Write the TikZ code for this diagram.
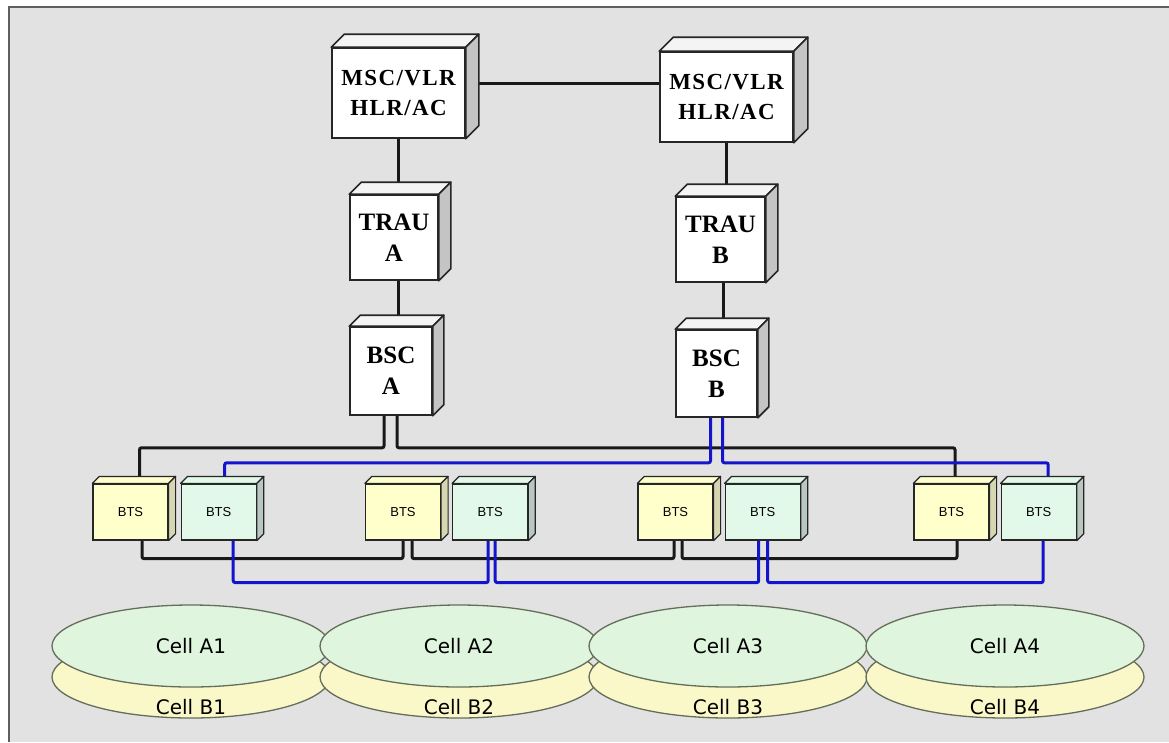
\documentclass[tikz,border=0pt]{standalone}
\usepackage{fontspec}
\newfontfamily\boxfont{Liberation Serif}
\newfontfamily\wideboxfont{Liberation Serif}[LetterSpace=6]
\newfontfamily\cellfont{DejaVu Sans}
\newfontfamily\btsfont{Liberation Sans}
\usetikzlibrary{positioning}
\usetikzlibrary{shapes.geometric}

\definecolor{stone}{RGB}{226,226,226}
\definecolor{frameline}{RGB}{95,95,95}
\definecolor{linkblue}{RGB}{20,20,205}
\definecolor{cellgreen}{RGB}{224,245,222}
\definecolor{cellyellow}{RGB}{250,248,200}
\definecolor{cellline}{RGB}{100,110,90}
\definecolor{btsyellow}{RGB}{255,255,204}
\definecolor{btsyellowside}{RGB}{214,214,176}
\definecolor{btsgreen}{RGB}{226,248,232}
\definecolor{btsgreenside}{RGB}{184,200,192}
\definecolor{boxside}{RGB}{196,196,196}
\definecolor{boxtop}{RGB}{244,244,244}

\pgfdeclarelayer{wires}
\pgfsetlayers{wires,main}

% top and side face of a box node: [line width]{node}{depth}{top}{side}
\newcommand\boxfaces[5][1.6pt]{%
  \filldraw[fill=#4, draw=black!85, line width=#1, line join=round]
    (#2.north west) -- ++(#3,#3) -- ([shift={(#3,#3)}]#2.north east) -- (#2.north east) -- cycle;
  \filldraw[fill=#5, draw=black!85, line width=#1, line join=round]
    (#2.north east) -- ++(#3,#3) -- ([shift={(#3,#3)}]#2.south east) -- (#2.south east) -- cycle;
}

\begin{document}
\begin{tikzpicture}[x=1pt, y=-1pt,
      bigbox/.style={draw=black!85, line width=1.6pt, fill=white, align=center, inner sep=0pt,
        font=\wideboxfont\bfseries\fontsize{23}{30}\selectfont},
      midbox/.style={bigbox, font=\boxfont\bfseries\fontsize{25}{31}\selectfont},
      btsbox/.style={draw=black!85, line width=1.2pt, minimum width=75pt, minimum height=56pt,
        inner sep=0pt, font=\btsfont\fontsize{13}{15}\selectfont},
      cella/.style={ellipse, draw=cellline, line width=1.3pt, fill=cellgreen, minimum width=278pt,
        minimum height=82pt, inner sep=0pt, font=\cellfont\fontsize{20}{24}\selectfont},
      cellb/.style={cella, fill=cellyellow},
      celltext/.style={font=\cellfont\fontsize{20}{24}\selectfont, anchor=base, yshift=4pt},
      wire/.style={line width=3pt, black!90, rounded corners=2pt},
      bluewire/.style={wire, linkblue},
    ]
    \useasboundingbox (0,0) rectangle (1169,742);
    \begin{pgfonlayer}{wires}
        \fill[white] (0,0) rectangle (1169,742);
        \fill[stone] (9,7) rectangle (1169,742);
        \draw[line width=2pt, frameline] (9,742) -- (9,7) -- (1169,7);
    \end{pgfonlayer}

    % switching part
    \node[bigbox, minimum width=133pt, minimum height=90pt] (msca) at (398.5,93) {MSC/VLR\\HLR/AC};
    \node[bigbox, minimum width=133pt, minimum height=90pt] (mscb) at (726.5,97) {MSC/VLR\\HLR/AC};
    \node[midbox, minimum width=88pt, minimum height=85pt] (traua) at (394,237.5) {TRAU\\A};
    \node[midbox, minimum width=89pt, minimum height=85pt] (traub) at (720.5,239.5) {TRAU\\B};
    \node[midbox, minimum width=82pt, minimum height=88pt] (bsca) at (391,371) {BSC\\A};
    \node[midbox, minimum width=81pt, minimum height=87pt] (bscb) at (716.5,373.5) {BSC\\B};
    \boxfaces{msca}{13pt}{boxtop}{boxside}
    \boxfaces{mscb}{14pt}{boxtop}{boxside}
    \boxfaces{traua}{12pt}{boxtop}{boxside}
    \boxfaces{traub}{12pt}{boxtop}{boxside}
    \boxfaces{bsca}{11pt}{boxtop}{boxside}
    \boxfaces{bscb}{11pt}{boxtop}{boxside}

    % base stations
    \node[btsbox, fill=btsyellow] (btsa1) at (130.5,512) {BTS};
    \node[btsbox, fill=btsgreen, right=12pt of btsa1] (btsb1) {BTS};
    \node[btsbox, fill=btsyellow] (btsa2) at (403,512) {BTS};
    \node[btsbox, fill=btsgreen, right=11pt of btsa2] (btsb2) {BTS};
    \node[btsbox, fill=btsyellow] (btsa3) at (675.5,512) {BTS};
    \node[btsbox, fill=btsgreen, right=11pt of btsa3] (btsb3) {BTS};
    \node[btsbox, fill=btsyellow] (btsa4) at (951.5,512) {BTS};
    \node[btsbox, fill=btsgreen, right=11pt of btsa4] (btsb4) {BTS};
    \boxfaces[1.2pt]{btsa1}{7pt}{btsyellow}{btsyellowside}
    \boxfaces[1.2pt]{btsb1}{7pt}{btsgreen}{btsgreenside}
    \boxfaces[1.2pt]{btsa2}{7pt}{btsyellow}{btsyellowside}
    \boxfaces[1.2pt]{btsb2}{7pt}{btsgreen}{btsgreenside}
    \boxfaces[1.2pt]{btsa3}{7pt}{btsyellow}{btsyellowside}
    \boxfaces[1.2pt]{btsb3}{7pt}{btsgreen}{btsgreenside}
    \boxfaces[1.2pt]{btsa4}{7pt}{btsyellow}{btsyellowside}
    \boxfaces[1.2pt]{btsb4}{7pt}{btsgreen}{btsgreenside}

    % cells
    \node[cellb, label={[celltext]below:Cell B1}] (cellb1) at (191,677) {};
    \node[cellb, label={[celltext]below:Cell B2}] (cellb2) at (459,677) {};
    \node[cellb, label={[celltext]below:Cell B3}] (cellb3) at (728,677) {};
    \node[cellb, label={[celltext]below:Cell B4}] (cellb4) at (1005,677) {};
    \node[cella] (cella1) at (191,646) {Cell A1};
    \node[cella] (cella2) at (459,646) {Cell A2};
    \node[cella] (cella3) at (728,646) {Cell A3};
    \node[cella] (cella4) at (1005,646) {Cell A4};

    \begin{pgfonlayer}{wires}
        \draw[wire] ([yshift=10pt]msca.center) -- ([yshift=10pt]msca.center -| mscb.center);
        \draw[wire] (msca) -- (msca |- traua);
        \draw[wire] (mscb) -- (mscb |- traub);
        \draw[wire] ([xshift=4pt]traua.center) -- ([xshift=4pt]traua.center |- bsca.center);
        \draw[wire] ([xshift=2.5pt]traub.center) -- ([xshift=2.5pt]traub.center |- bscb.center);
        % BSC A to its BTS chain
        \draw[wire] ([xshift=-7pt]bsca.south) -- ++(0,32) -| ([xshift=9pt]btsa1.north);
        \draw[wire] ([xshift=6pt]bsca.south) -- ++(0,32) -| ([xshift=3.5pt]btsa4.north);
        \draw[wire] ([xshift=11.5pt]btsa1.south) -- ++(0,18) -| (btsa2.south);
        \draw[wire] ([xshift=9pt]btsa2.south) -- ++(0,18) -| ([xshift=-1.5pt]btsa3.south);
        \draw[wire] ([xshift=6.5pt]btsa3.south) -- ++(0,18) -| ([xshift=5.5pt]btsa4.south);
        % BSC B to its BTS chain
        \draw[bluewire] ([xshift=-6pt]bscb.south) -- ++(0,45) -| ([xshift=6pt]btsb1.north);
        \draw[bluewire] ([xshift=6pt]bscb.south) -- ++(0,45) -| ([xshift=9.5pt]btsb4.north);
        \draw[bluewire] ([xshift=14.5pt]btsb1.south) -- ++(0,42) -| ([xshift=-2pt]btsb2.south);
        \draw[bluewire] ([xshift=5pt]btsb2.south) -- ++(0,42) -| ([xshift=-4pt]btsb3.south);
        \draw[bluewire] ([xshift=5pt]btsb3.south) -- ++(0,42) -| ([xshift=4.5pt]btsb4.south);
    \end{pgfonlayer}
\end{tikzpicture}
\end{document}
